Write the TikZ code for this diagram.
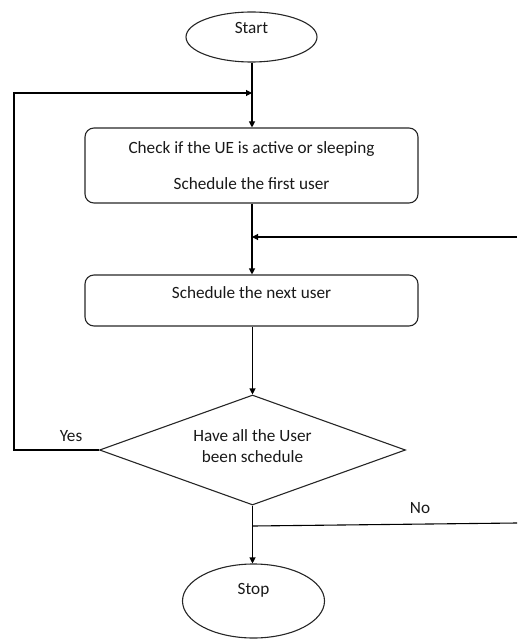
\documentclass[tikz,border=0pt]{standalone}
\usepackage{fontspec}
\setmainfont{Carlito}
\usetikzlibrary{shapes.geometric,arrows.meta}
\newcommand{\liftby}[2]{\raisebox{#1}[\height][\depth]{#2}}
\begin{document}
\begin{tikzpicture}[x=1pt,y=-1pt,
  font=\fontsize{17.2}{21}\selectfont,
  line width=1.1pt,
  every node/.style={text=black!90},
  term/.style={draw=black!85, ellipse, inner sep=0pt, align=center},
  procbox/.style={draw=black!85, rectangle, rounded corners=9pt, minimum width=333pt, align=center, inner sep=0pt},
  decision/.style={draw=black!85, diamond, inner sep=0pt, minimum width=306pt, minimum height=110pt, aspect=2.78, align=center},
  flow/.style={draw=black, -{Triangle[length=6pt,width=6pt]}},
  plain/.style={draw=black},
  lbl/.style={inner sep=0pt}]
\useasboundingbox (0,0) rectangle (517,639);

\node[term, minimum width=131pt, minimum height=50pt] (start) at (251.5,37) {\liftby{9pt}{Start}};
\node[procbox, minimum height=75pt, font=\fontsize{17.2}{36}\selectfont] (box1) at (251.5,165.5)
  {Check if the UE is active or sleeping\\Schedule the first user};
\node[procbox, minimum height=51pt] (box2) at (251.5,300.5) {\liftby{7.5pt}{Schedule the next user}};
\node[decision] (dec) at (252.5,450) {\liftby{3.5pt}{Have all the User}\\\liftby{3.5pt}{been schedule}};
\node[term, minimum width=142pt, minimum height=74pt] (stop) at (253.5,601) {\liftby{11pt}{Stop}};

\coordinate (j1) at (252,93);
\coordinate (l1) at (14,450);
\coordinate (l2) at (14,93);
\coordinate (j2) at (252,237);
\coordinate (r1) at (517,237);
\coordinate (j3) at (253,526);
\coordinate (r2) at (517,523);

\draw[flow] (start.south -| j1) -- (box1.north -| j1);
\draw[flow] (dec.west) -- (l1) -- (l2) -- (j1);
\draw[flow] (box1.south -| j2) -- (box2.north -| j2);
\draw[flow] (r1) -- (j2);
\draw[flow] (box2.south -| dec.north) -- (dec.north);
\draw[flow] (dec.south) -- (dec.south |- stop.north);
\draw[plain] (j3) -- (r2);

\node[lbl] (yes) at (71,436) {Yes};
\node[lbl] (no) at (420,508) {No};
\end{tikzpicture}
\end{document}
